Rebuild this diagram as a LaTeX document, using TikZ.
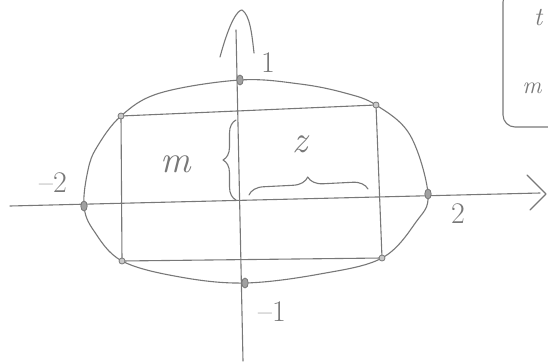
\documentclass[tikz,border=0pt]{standalone}
\usetikzlibrary{decorations.pathreplacing}
\definecolor{pencil}{RGB}{120,120,120}
\begin{document}
\begin{tikzpicture}[x=1pt,y=-1pt,
  pen/.style={draw=pencil,line width=1.1pt,line cap=round,line join=round},
  dotmark/.style={draw=pencil,fill=pencil!70,line width=0.8pt},
  lbl/.style={text=pencil,inner sep=0pt,font=\fontsize{30}{30}\selectfont},
  biglbl/.style={text=pencil,inner sep=0pt,font=\fontsize{38}{38}\selectfont\itshape}]
\useasboundingbox (0,0) rectangle (548,361);
\clip (0,0) rectangle (548,361);
\fill[white] (0,0) rectangle (548,361);
% key points
\coordinate (T) at (240,80);
\coordinate (L) at (84,206);
\coordinate (R) at (428,194);
\coordinate (B) at (245,283);
\coordinate (TL) at (121,116);
\coordinate (TR) at (376,105);
\coordinate (BR) at (382,258);
\coordinate (BL) at (122,261);
\coordinate (xs) at (10,206);
\coordinate (xe) at (540,193);
\coordinate (ys) at (243,361);
\coordinate (ye) at (236,30);
% axes
\draw[pen] (xs) -- (xe);
\draw[pen] (ys) -- (ye);
\coordinate (xa1) at (527,175);
\coordinate (xa2) at (546,194);
\coordinate (xa3) at (530,210);
\draw[pen] (xa1) -- (xa2) -- (xa3);
\coordinate (ya1) at (220,57);
\coordinate (ya2) at (242,10);
\coordinate (ya3) at (254,53);
\draw[pen] (ya1) .. controls (230,20) and (238,10) .. (ya2) .. controls (250,15) and (252,35) .. (ya3);
% oval
\draw[pen] plot[smooth cycle,tension=0.6] coordinates {
  (240,80) (300,84) (345,93) (376,105) (410,135) (428,194)
  (416,222) (382,258) (320,274) (245,283) (180,277) (122,261)
  (94,231) (84,206) (88,170) (97,147) (121,116) (160,93)};
% rectangle
\draw[pen] (TL) -- (TR) -- (BR) -- (BL) -- cycle;
% marks
\foreach \p in {T,L,R,B}{\draw[dotmark] (\p) ellipse (3.2pt and 5pt);}
\foreach \p in {TL,TR,BR,BL}{\draw[dotmark,fill=pencil!40] (\p) ellipse (3pt and 3pt);}
% braces
\coordinate (mb1) at (236,200);
\coordinate (mb2) at (236,120);
\draw[pen,decorate,decoration={brace,amplitude=13pt}] (mb1) -- (mb2);
\coordinate (zb1) at (249,195);
\coordinate (zb2) at (368,189);
\draw[pen,decorate,decoration={brace,amplitude=15pt}] (zb1) -- (zb2);
% labels
\node[biglbl] (m) at (176,164) {m};
\node[biglbl] (z) at (300,144) {z};
\node[lbl] (l1) at (268,63) {1};
\node[lbl] (lm1) at (272,312) {–1};
\node[lbl] (l2) at (458,214) {2};
\node[lbl] (lm2) at (53,183) {–2};
% legend box
\coordinate (k1) at (503,-10);
\coordinate (k2) at (570,127);
\draw[pen,rounded corners=12pt] (k1) rectangle (k2);
\node[lbl,font=\fontsize{26}{26}\selectfont\itshape] (kt) at (538,18) {t};
\node[lbl,font=\fontsize{24}{24}\selectfont\itshape] (km) at (532,88) {m};
\end{tikzpicture}
\end{document}
